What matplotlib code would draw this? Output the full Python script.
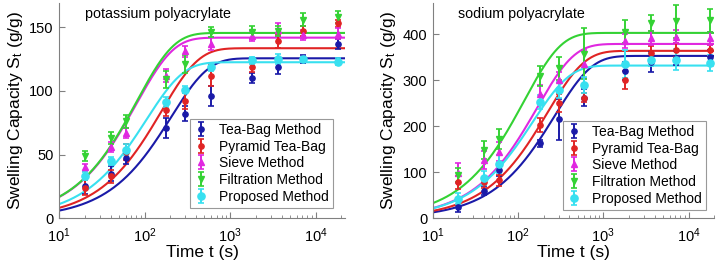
import numpy as np
import matplotlib
matplotlib.use("Agg")
import matplotlib.pyplot as plt

plt.rcParams['font.family'] = ['Liberation Sans', 'DejaVu Sans']
plt.rcParams['mathtext.fontset'] = 'custom'
plt.rcParams['mathtext.rm'] = 'Liberation Sans'
plt.rcParams['mathtext.it'] = 'Liberation Sans'

# ---- data ----
times = [20, 40, 60, 180, 300, 600, 1800, 3600, 7200, 18000]
methods = ["Tea-Bag Method", "Pyramid Tea-Bag", "Sieve Method", "Filtration Method", "Proposed Method"]

# potassium polyacrylate
k_tea = [25, 35, 47, 71, 82, 96, 110, 119, 125, 137]
k_tea_err = [6, 6, 4, 8, 6, 8, 4, 6, 3, 4]
k_pyr = [24, 33, 52, 85, 92, 112, 119, 139, 147, 153]
k_pyr_err = [6, 5, 6, 5, 6, 8, 4, 5, 4, 3]
k_sieve = [40, 56, 67, 112, 131, 137, 143, 148, 144, 145]
k_sieve_err = [3, 4, 4, 5, 4, 5, 4, 5, 4, 4]
k_filt = [49, 63, 76, 109, 121, 146, 146, 147, 156, 158]
k_filt_err = [4, 5, 5, 7, 7, 4, 5, 4, 5, 5]
k_prop = [33, 45, 54, 91, 101, 119, 124, 125, 125, 123]
k_prop_err = [3, 3, 4, 4, 3, 3, 3, 4, 2, 3]
# fitted first-order model parameters (Se, k)
k_fit_se = [125.6, 133.5, 141.8, 145.5, 122.5]
k_fit_k = [0.0049, 0.0063, 0.0125, 0.0123, 0.0095]

# sodium polyacrylate
n_tea = [25, 60, 105, 163, 215, 262, 320, 340, 348, 350]
n_tea_err = [12, 10, 12, 8, 45, 18, 20, 22, 15, 15]
n_pyr = [78, 78, 83, 202, 250, 262, 300, 360, 365, 365]
n_pyr_err = [15, 12, 12, 15, 20, 10, 20, 15, 15, 12]
n_sieve = [98, 127, 145, 270, 300, 335, 385, 392, 395, 391]
n_sieve_err = [22, 20, 20, 20, 18, 30, 15, 15, 15, 15]
n_filt = [94, 148, 172, 310, 326, 358, 405, 425, 428, 430]
n_filt_err = [15, 20, 22, 22, 25, 55, 25, 18, 35, 25]
n_prop = [43, 88, 118, 252, 279, 290, 335, 345, 345, 338]
n_prop_err = [12, 15, 20, 15, 18, 18, 30, 15, 22, 18]
n_fit_se = [353, 364, 379, 403, 332]
n_fit_k = [0.0037, 0.0045, 0.0060, 0.0085, 0.0067]

colors = ['#1a1aa8', '#e02424', '#e028e0', '#34d234', '#38e0f0']
markers = ['o', 'o', '^', 'v', 'o']
msizes = [3.8, 3.8, 4.8, 4.8, 5.2]

fig = plt.figure(figsize=(7.16, 2.62), dpi=100)
ax1 = fig.add_axes([59/716, 1-218.3/262, (345-59)/716, 215.3/262])
ax2 = fig.add_axes([432.7/716, 1-218.3/262, (714.3-432.7)/716, 215.3/262])

def draw(ax, series, errs, se, kk, xmax, ymax, yticks, title, leg_anchor):
    tt = np.logspace(1, np.log10(xmax), 400)
    for i in range(5):
        ax.plot(tt, se[i] * (1 - np.exp(-kk[i] * tt)), color=colors[i], lw=1.5, zorder=2)
    for i in range(5):
        ax.errorbar(times, series[i], yerr=errs[i], fmt=markers[i], color=colors[i],
                    ms=msizes[i], elinewidth=1.4, capsize=2.5, capthick=1.2,
                    label=methods[i], zorder=3)
    ax.set_xscale('log')
    ax.set_xlim(10, xmax)
    ax.set_ylim(0, ymax)
    ax.set_yticks(yticks)
    ax.set_xticks([10, 100, 1000, 10000])
    for s in ['top', 'right']:
        ax.spines[s].set_visible(False)
    for s in ['left', 'bottom']:
        ax.spines[s].set_color('#808080')
        ax.spines[s].set_linewidth(0.8)
    ax.tick_params(which='both', direction='in', labelsize=10.5, colors='#808080', labelcolor='black')
    ax.tick_params(axis='x', which='major', pad=6)
    ax.tick_params(axis='y', which='major', pad=4)
    ax.tick_params(which='major', length=4)
    ax.tick_params(which='minor', length=2)
    ax.set_xlabel('Time t (s)', fontsize=12.5, labelpad=0)
    ax.set_ylabel('Swelling Capacity S$_\\mathregular{t}$ (g/g)', fontsize=12.5, labelpad=3)
    ax.text(0.09, 0.95, title, transform=ax.transAxes, fontsize=10.3, va='center', ha='left')
    leg = ax.legend(loc='lower right', bbox_to_anchor=leg_anchor, bbox_transform=fig.transFigure,
                    fontsize=10, frameon=True, fancybox=False, borderaxespad=0,
                    labelspacing=0.2, handlelength=1.0, handletextpad=0.8, borderpad=0.3)
    leg.get_frame().set_edgecolor('#808080')
    leg.get_frame().set_linewidth(0.8)

draw(ax1, [k_tea, k_pyr, k_sieve, k_filt, k_prop],
     [k_tea_err, k_pyr_err, k_sieve_err, k_filt_err, k_prop_err],
     k_fit_se, k_fit_k, 2.2e4, 169, [0, 50, 100, 150], 'potassium polyacrylate',
     (333/716, 1-208/262))
draw(ax2, [n_tea, n_pyr, n_sieve, n_filt, n_prop],
     [n_tea_err, n_pyr_err, n_sieve_err, n_filt_err, n_prop_err],
     n_fit_se, n_fit_k, 2.0e4, 468, [0, 100, 200, 300, 400], 'sodium polyacrylate',
     (706/716, 1-210/262))

fig.savefig('out.png', dpi=100)
